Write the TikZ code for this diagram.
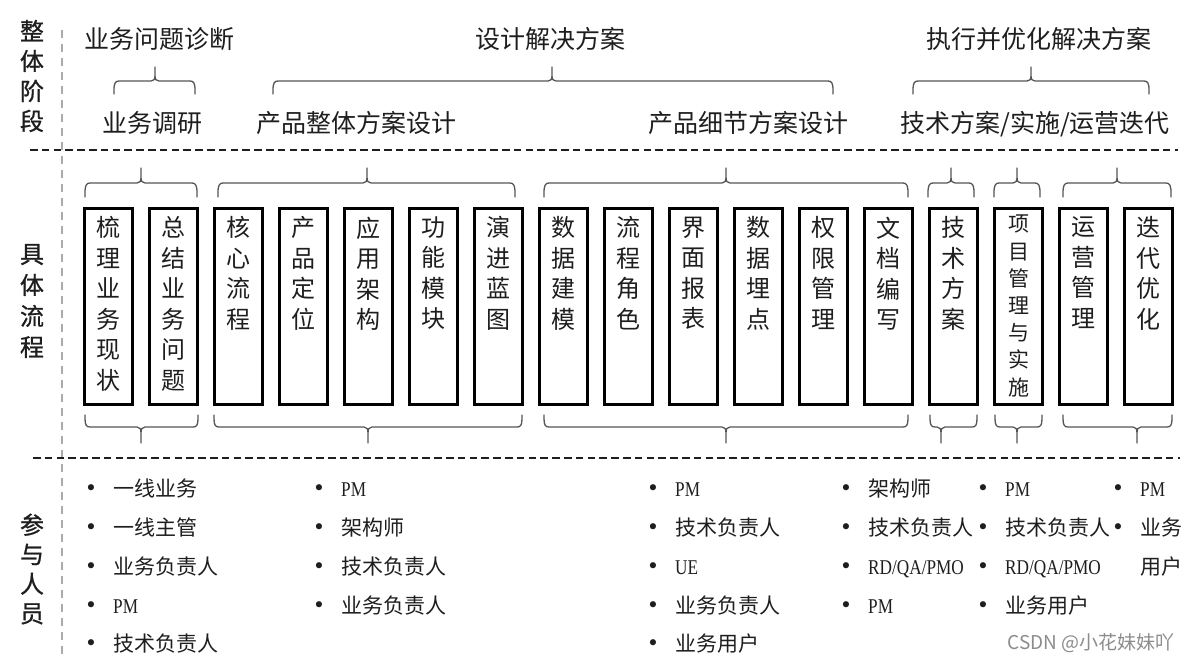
\documentclass[tikz,border=0pt]{standalone}
\usepackage{fontspec}
\setmainfont{Noto Sans CJK SC}
\newfontfamily\hei[FakeBold=0.8]{Noto Sans CJK SC}
\newfontfamily\lat[FakeStretch=0.82]{Liberation Serif}
\newfontfamily\djv{DejaVu Sans}
\usetikzlibrary{calc}
\definecolor{ink}{HTML}{1E1E1E}
\definecolor{brc}{HTML}{555555}
\definecolor{vline}{HTML}{ABABAB}
% x0, x1, xtip, yend, yh, ytip
\newcommand\mybrace[6]{%
 \draw[bracestyle] (#1,#4) -- (#1,{#4+0.3*(#5-#4)})
   .. controls (#1,{#4+0.85*(#5-#4)}) and ({#1+1.5},#5) .. ({#1+5},#5)
   -- ({#3-4},#5) .. controls ({#3-1},#5) and (#3,{#5+0.12*(#6-#5)}) .. (#3,{#5+0.4*(#6-#5)})
   -- (#3,#6)
   (#3,{#5+0.4*(#6-#5)}) .. controls (#3,{#5+0.12*(#6-#5)}) and ({#3+1},#5) .. ({#3+4},#5)
   -- ({#2-5},#5) .. controls ({#2-1.5},#5) and (#2,{#4+0.85*(#5-#4)}) .. (#2,{#4+0.3*(#5-#4)})
   -- (#2,#4);}
\newcommand\pitem[4]{%
 \node[bul] (#1-b) at (#2,#3) {•};
 \node[itm] (#1) at ({#2+22},#3) {#4};}
\begin{document}
\begin{tikzpicture}[x=1pt,y=-1pt,
  bracestyle/.style={draw=brc, line width=1.3pt, line cap=round, line join=round},
  hdash/.style={draw=ink, line width=2.2pt, dash pattern=on 7.5pt off 4.3pt},
  vdash/.style={draw=vline, line width=1.8pt, dash pattern=on 8pt off 6pt},
  side/.style={font=\hei\fontsize{24}{30}\selectfont, text=ink, align=center, inner sep=0pt},
  lbl/.style={font=\fontsize{25}{30}\selectfont, text=ink, inner sep=0pt, text height=22pt, text depth=3pt},
  box/.style={draw=black, line width=3pt, minimum width=48pt, minimum height=196pt, inner sep=0pt},
  vt/.style={font=\fontsize{24}{30.5}\selectfont, text=ink, align=center, inner sep=0pt, anchor=north, yshift=-9.5pt},
  vts/.style={font=\fontsize{21}{27.2}\selectfont, text=ink, align=center, inner sep=0pt, anchor=north, yshift=-8pt},
  bul/.style={font=\djv\fontsize{21}{21}\selectfont, text=ink, inner sep=0pt, yshift=-2.5pt},
  itm/.style={font=\fontsize{21}{25}\selectfont, text=ink, inner sep=0pt, anchor=west, text height=18.5pt, text depth=2.5pt},
  wm/.style={font=\fontsize{19}{22}\selectfont, text=black!45, inner sep=0pt}
]
\fill[white] (0,0) rectangle (1193,665);
\useasboundingbox (0,0) rectangle (1193,665);

% separators
\coordinate (h1a) at (30,150);   \coordinate (h1b) at (1178,150);
\coordinate (h2a) at (33,458);   \coordinate (h2b) at (1180,458);
\coordinate (va) at (62,30);     \coordinate (vb) at (62,655);
\draw[vdash] (va) -- (vb);
\draw[hdash] (h1a) -- (h1b);
\draw[hdash] (h2a) -- (h2b);

% side labels
\node[side] (L1) at (32,76) {整\\体\\阶\\段};
\node[side, font=\hei\fontsize{24}{31}\selectfont] (L2) at (32,301) {具\\体\\流\\程};
\node[side, font=\hei\fontsize{24}{29.5}\selectfont] (L3) at (32,569) {参\\与\\人\\员};

% stage labels
\node[lbl] (p1) at (159,39) {业务问题诊断};
\node[lbl] (p2) at (550,39) {设计解决方案};
\node[lbl] (p3) at (1039,39) {执行并优化解决方案};
\node[lbl] (s1) at (152,123) {业务调研};
\node[lbl] (s2) at (356,123) {产品整体方案设计};
\node[lbl] (s3) at (748,123) {产品细节方案设计};
\node[lbl] (s4) at (1035,123) {技术方案/实施/运营迭代};

\mybrace{114}{195}{155}{94}{81}{67}
\mybrace{273}{833}{552}{94}{81}{67}
\mybrace{913}{1149}{1031}{94}{81}{67}

% process boxes
\foreach \i in {0,...,16}
  \node[box] (b\i) at ({108.5+65*\i},306.5) {};
\foreach \t/\s [count=\i from 0] in {
  {梳\\理\\业\\务\\现\\状}/vt, {总\\结\\业\\务\\问\\题}/vt,
  {核\\心\\流\\程}/vt, {产\\品\\定\\位}/vt, {应\\用\\架\\构}/vt,
  {功\\能\\模\\块}/vt, {演\\进\\蓝\\图}/vt, {数\\据\\建\\模}/vt,
  {流\\程\\角\\色}/vt, {界\\面\\报\\表}/vt, {数\\据\\埋\\点}/vt,
  {权\\限\\管\\理}/vt, {文\\档\\编\\写}/vt, {技\\术\\方\\案}/vt,
  {项\\目\\管\\理\\与\\实\\施}/vts, {运\\营\\管\\理}/vt, {迭\\代\\优\\化}/vt}
  \node[\s] (t\i) at (b\i.north) {\t};

% braces above boxes
\mybrace{85}{197}{141}{197}{183}{168}
\mybrace{218}{515}{367}{197}{183}{168}
\mybrace{544}{908}{726}{197}{183}{168}
\mybrace{928}{974}{951}{197}{183}{168}
\mybrace{994}{1040}{1017}{197}{183}{168}
\mybrace{1063}{1171}{1117}{197}{183}{168}
% braces below boxes
\mybrace{85}{198}{141}{415}{427}{443}
\mybrace{214}{522}{368}{415}{427}{443}
\mybrace{544}{908}{726}{415}{427}{443}
\mybrace{930}{977}{941}{415}{427}{443}
\mybrace{995}{1042}{1017}{415}{427}{443}
\mybrace{1063}{1172}{1137}{415}{427}{443}

% participants
\pitem{a1}{91}{488}{一线业务}
\pitem{a2}{91}{527}{一线主管}
\pitem{a3}{91}{566}{业务负责人}
\pitem{a4}{91}{605}{\lat PM}
\pitem{a5}{91}{643}{技术负责人}

\pitem{c1}{319}{488}{\lat PM}
\pitem{c2}{319}{527}{架构师}
\pitem{c3}{319}{566}{技术负责人}
\pitem{c4}{319}{605}{业务负责人}

\pitem{d1}{653}{488}{\lat PM}
\pitem{d2}{653}{527}{技术负责人}
\pitem{d3}{653}{566}{\lat UE}
\pitem{d4}{653}{605}{业务负责人}
\pitem{d5}{653}{643}{业务用户}

\pitem{e1}{846}{488}{架构师}
\pitem{e2}{846}{527}{技术负责人}
\pitem{e3}{846}{566}{\lat RD/QA/PMO}
\pitem{e4}{846}{605}{\lat PM}

\pitem{f1}{983}{488}{\lat PM}
\pitem{f2}{983}{527}{技术负责人}
\pitem{f3}{983}{566}{\lat RD/QA/PMO}
\pitem{f4}{983}{605}{业务用户}

\pitem{g1}{1118}{488}{\lat PM}
\pitem{g2}{1118}{527}{业务}
\node[itm] (g3) at (1140,566) {用户};

\node[wm] (wm) at (1091,643) {CSDN @小花妹妹吖};
\end{tikzpicture}
\end{document}
